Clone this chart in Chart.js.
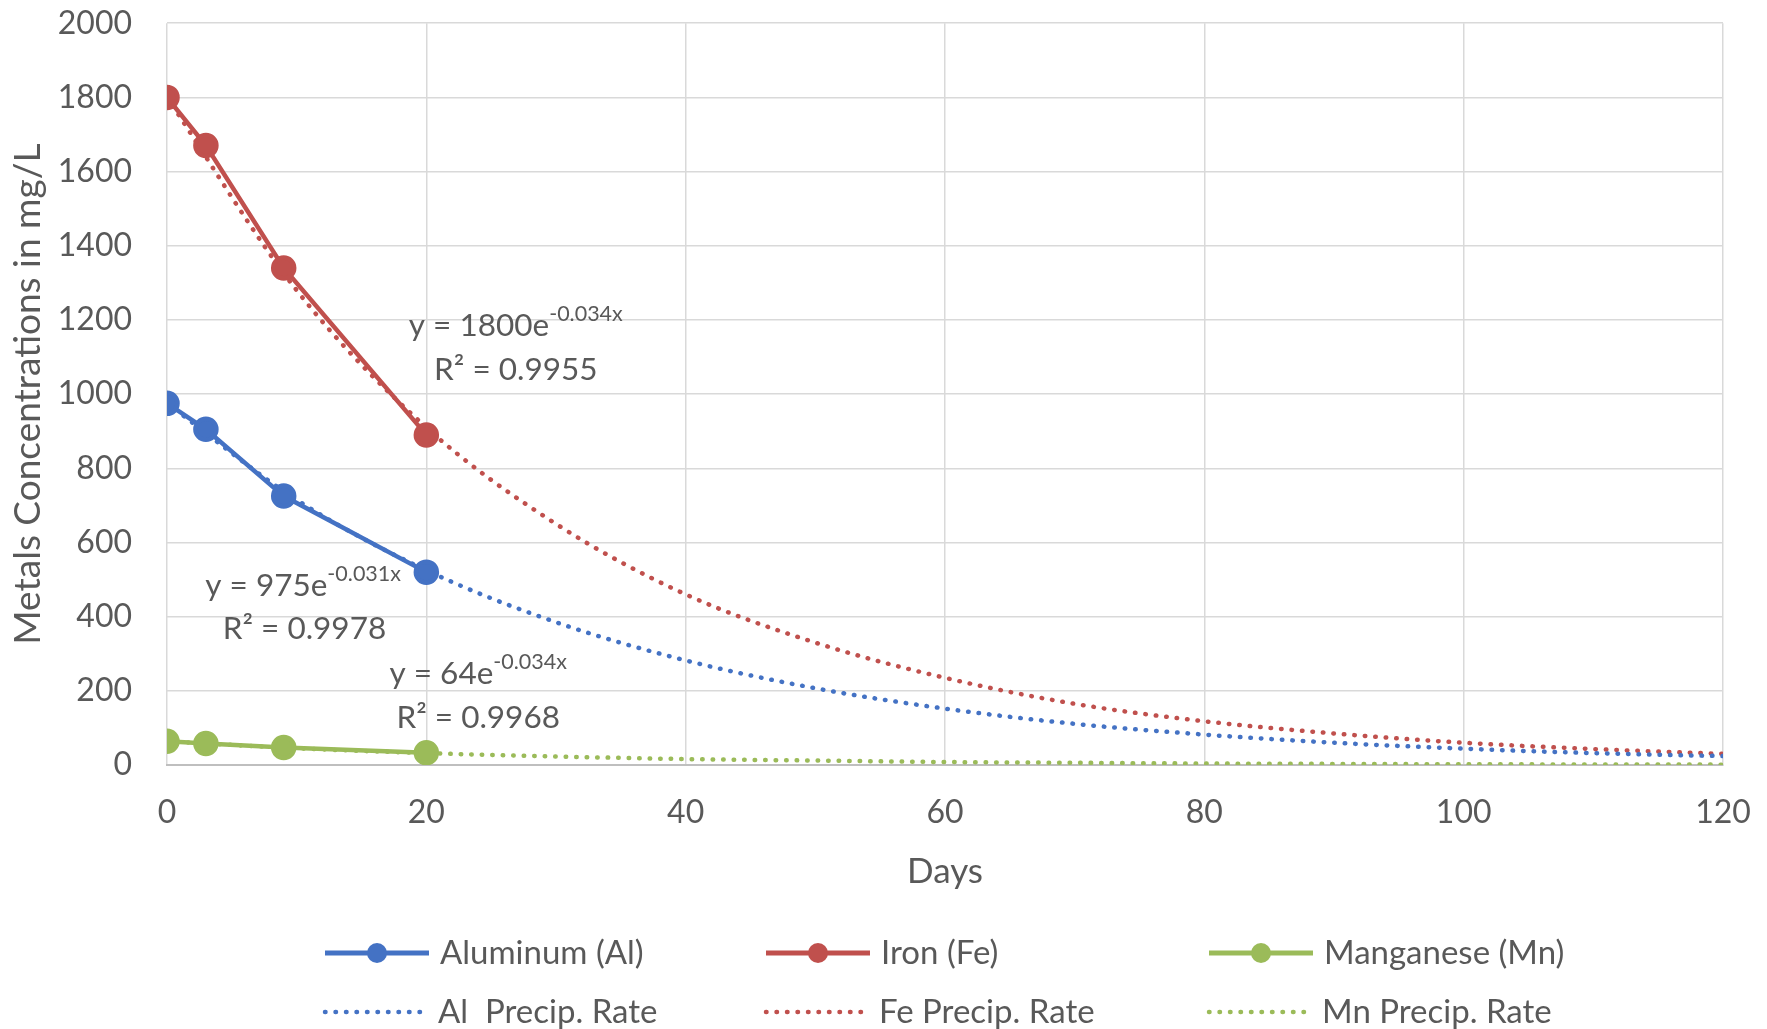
<!DOCTYPE html>
<html>
<head>
<meta charset="utf-8">
<script src="https://cdn.jsdelivr.net/npm/chart.js@4/dist/chart.umd.min.js"></script>
<style>
  html, body { margin: 0; padding: 0; background: #fff; }
  #wrap { width: 1767px; height: 1029px; position: relative; }
</style>
</head>
<body>
<div id="wrap"><canvas id="chart"></canvas></div>
<script>
// measured days and concentrations (mg/L)
var days = [0, 3, 9, 20];
var aluminum = [975, 905, 725, 520];
var iron = [1800, 1670, 1340, 890];
var manganese = [64, 58, 47, 33];

// precipitation rate curves
var trendDays = [0, 10, 20, 30, 40, 50, 60, 70, 80, 90, 100, 110, 120];
var alTrend = [975, 715, 525, 385, 282, 207, 152, 111, 82, 60, 44, 32, 24];
var feTrend = [1800, 1280, 910, 650, 460, 330, 235, 165, 118, 85, 60, 43, 30];
var mnTrend = [64, 45, 32, 23, 16, 12, 8, 6, 4, 3, 2, 1.5, 1];

var seriesNames = ["Aluminum (Al)", "Iron (Fe)", "Manganese (Mn)",
                   "Al  Precip. Rate", "Fe Precip. Rate", "Mn Precip. Rate"];
var equations = [
  {x: 26.9, y: 1184, main: "y = 1800e", sup: "-0.034x"},
  {x: 26.9, y: 1065, main: "R\u00B2 = 0.9955", sup: ""},
  {x: 10.5, y: 483, main: "y = 975e", sup: "-0.031x"},
  {x: 10.6, y: 367, main: "R\u00B2 = 0.9978", sup: ""},
  {x: 24.0, y: 246, main: "y = 64e", sup: "-0.034x"},
  {x: 24.0, y: 127, main: "R\u00B2 = 0.9968", sup: ""}
];

var BLUE = "#4472C4", RED = "#C0504D", GREEN = "#9BBB59";
var FONT = "Lato";
var TEXT = "#595959";

function pts(xs, ys) {
  var out = [];
  for (var i = 0; i < xs.length; i++) out.push({x: xs[i], y: ys[i]});
  return out;
}

function measured(label, ys, color) {
  return {
    label: label, data: pts(days, ys), showLine: true,
    borderColor: color, backgroundColor: color, borderWidth: 4.5,
    pointRadius: 10.5, pointHoverRadius: 10.5, order: 1
  };
}

function trend(label, ys, color) {
  return {
    label: label, data: pts(trendDays, ys), showLine: true,
    borderColor: color, backgroundColor: color, borderWidth: 4.5,
    borderDash: [0.5, 10], borderCapStyle: "round",
    cubicInterpolationMode: "monotone",
    pointRadius: 0, pointHoverRadius: 0, order: 2
  };
}

// equation labels placed through the scales
var eqPlugin = {
  id: "eqLabels",
  afterDatasetsDraw: function(chart) {
    var ctx = chart.ctx, xs = chart.scales.x, ys = chart.scales.y;
    ctx.save();
    ctx.fillStyle = TEXT;
    ctx.textBaseline = "middle";
    ctx.textAlign = "left";
    equations.forEach(function(e) {
      var cx = xs.getPixelForValue(e.x), cy = ys.getPixelForValue(e.y);
      ctx.font = "31.5px " + FONT;
      var w1 = ctx.measureText(e.main).width;
      ctx.font = "21.5px " + FONT;
      var w2 = e.sup ? ctx.measureText(e.sup).width : 0;
      var x0 = cx - (w1 + w2) / 2;
      ctx.font = "31.5px " + FONT;
      ctx.fillText(e.main, x0, cy);
      if (e.sup) {
        ctx.font = "21.5px " + FONT;
        ctx.fillText(e.sup, x0 + w1, cy - 12);
      }
    });
    ctx.restore();
  }
};

// legend in 3 columns x 2 rows below the axis
var legendPlugin = {
  id: "gridLegend",
  afterDraw: function(chart) {
    var ctx = chart.ctx;
    var colX = [325, 766, 1209], rowY = [953, 1012];
    ctx.save();
    ctx.textBaseline = "middle";
    ctx.textAlign = "left";
    chart.data.datasets.forEach(function(ds, i) {
      var x = colX[i % 3], y = rowY[Math.floor(i / 3)];
      var dotted = !!ds.borderDash;
      var len = dotted ? 96 : 104;
      ctx.strokeStyle = ds.borderColor;
      ctx.lineWidth = dotted ? ds.borderWidth : 5;
      ctx.lineCap = dotted ? "round" : "butt";
      ctx.setLineDash(ds.borderDash || []);
      ctx.beginPath();
      ctx.moveTo(x, y);
      ctx.lineTo(x + len, y);
      ctx.stroke();
      ctx.setLineDash([]);
      if (!dotted) {
        ctx.fillStyle = ds.borderColor;
        ctx.beginPath();
        ctx.arc(x + len / 2, y, 10, 0, Math.PI * 2);
        ctx.fill();
      }
      ctx.fillStyle = TEXT;
      ctx.font = "33px " + FONT;
      ctx.fillText(ds.label, x + (dotted ? 113 : 115), y);
    });
    ctx.restore();
  }
};

new Chart(document.getElementById("chart"), {
  type: "scatter",
  data: {
    datasets: [
      measured(seriesNames[0], aluminum, BLUE),
      measured(seriesNames[1], iron, RED),
      measured(seriesNames[2], manganese, GREEN),
      trend(seriesNames[3], alTrend, BLUE),
      trend(seriesNames[4], feTrend, RED),
      trend(seriesNames[5], mnTrend, GREEN)
    ]
  },
  options: {
    responsive: true,
    maintainAspectRatio: false,
    animation: false,
    layout: { padding: { top: 22, right: 44, bottom: 134, left: 0 } },
    plugins: { legend: { display: false }, tooltip: { enabled: false } },
    scales: {
      x: {
        type: "linear", min: 0, max: 120,
        ticks: { stepSize: 20, color: TEXT, font: { family: FONT, size: 32 }, padding: 4, maxRotation: 0,
                 callback: function(v) { return v; } },
        grid: { color: "#d9d9d9", lineWidth: 1.5, drawTicks: true, tickLength: 24, tickColor: "rgba(0,0,0,0)" },
        border: { color: "#bfbfbf", width: 2 },
        title: { display: true, text: "Days", color: TEXT, font: { family: FONT, size: 35 }, padding: { top: 0, bottom: 2 } },
        afterFit: function(s) { s.height = 130; }
      },
      y: {
        min: 0, max: 2000,
        ticks: { stepSize: 200, color: TEXT, font: { family: FONT, size: 32 }, padding: 4,
                 callback: function(v) { return v; } },
        grid: { color: "#d9d9d9", lineWidth: 1.5, drawTicks: true, tickLength: 31, tickColor: "rgba(0,0,0,0)" },
        border: { display: false },
        title: { display: true, text: "Metals Concentrations in mg/L", color: TEXT, font: { family: FONT, size: 37 }, padding: { top: 6, bottom: 0 } },
        afterFit: function(s) { s.width = 167; }
      }
    }
  },
  plugins: [eqPlugin, legendPlugin]
});
</script>
</body>
</html>
